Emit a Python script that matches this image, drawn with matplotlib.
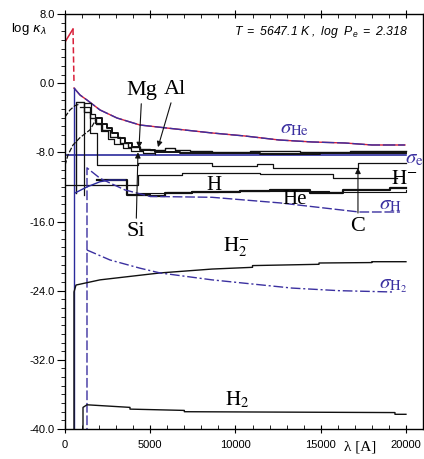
import matplotlib
matplotlib.use("Agg")
import matplotlib.pyplot as plt
from matplotlib.ticker import MultipleLocator, FormatStrFormatter

# ---------------- data (wavelength in A, log kappa) ----------------
sigHe_x = [528, 880, 1290, 2053, 3050, 4399, 5982, 8622, 10557, 12551, 14487, 16422, 18006, 19941]
sigHe_y = [-0.56, -1.37, -1.95, -3.10, -4.03, -4.84, -5.19, -5.76, -6.11, -6.57, -6.80, -6.92, -7.15, -7.15]

red_x = [0, 469, 528]
red_y = [4.76, 6.27, 0.0]

sige_x = [0, 20000]
sige_y = [-8.3, -8.3]

S1_x = [645, 645, 1114, 1466, 1818, 2170, 2639, 3226, 3695, 4399, 4985, 5865, 6451, 7331, 8622, 10850, 13783, 16716, 20000]
S1_y = [-12.7, -2.2, -3.3, -4.0, -4.7, -5.4, -6.2, -6.9, -7.4, -7.6, -7.7, -7.5, -7.7, -7.85, -7.95, -7.85, -7.95, -7.85, -7.85]

S2_x = [1877, 2170, 2463, 2757, 3108, 3519, 3930, 4399, 5279, 6745, 8622, 11437, 14956, 20000]
S2_y = [-4.0, -4.7, -5.2, -5.8, -6.3, -6.9, -7.4, -7.7, -8.0, -8.1, -8.1, -8.2, -8.1, -8.1]

S4_x = [1114, 1114, 1500, 1750, 2100, 2500, 2900, 3400, 3900, 4600, 5300]
S4_y = [-12.9, -2.3, -3.6, -4.6, -5.5, -6.4, -7.0, -7.5, -7.9, -8.1, -8.2]

L1_x = [880, 1466, 1877, 4281, 8622, 11261, 12200, 17185, 20000]
L1_y = [-2.8, -5.8, -9.5, -9.2, -9.6, -9.35, -9.8, -9.2, -9.2]

L2_x = [0, 4281, 6862, 11437, 15718, 19500]
L2_y = [-11.8, -10.6, -10.4, -10.5, -11.0, -11.0]

H_x = [1877, 3636, 4985, 5865, 7449, 10264, 12023, 14370, 16305, 19062, 20000]
H_y = [-11.2, -12.9, -13.05, -12.7, -12.6, -12.45, -12.35, -12.7, -12.35, -12.15, -12.15]

He_x = [4281, 6000, 9000, 12600, 15500, 20000]
He_y = [-12.75, -12.6, -12.5, -12.45, -12.55, -12.3]

Hbf_x = [587, 1290, 2053, 2639, 3519]
Hbf_y = [-12.7, -12.0, -11.4, -11.2, -11.2]

sigH_x = [1290, 1290, 2053, 2639, 3519, 4985, 8622, 12610, 17243, 19648]
sigH_y = [-41, -9.8, -11.0, -11.55, -12.35, -13.1, -13.2, -13.85, -14.9, -14.9]

H2m_x = [528, 528, 645, 2053, 5572, 8622, 11000, 11000, 14900, 14900, 18000, 18000, 20000]
H2m_y = [-41, -24.15, -23.35, -22.75, -21.95, -21.5, -21.3, -21.1, -20.95, -20.8, -20.75, -20.65, -20.65]

sigH2_x = [1290, 2639, 4399, 5572, 8622, 13314, 16070, 19180]
sigH2_y = [-19.3, -20.45, -21.4, -21.95, -22.75, -23.7, -24.0, -24.15]

H2_x = [1056, 1056, 1290, 3812, 3812, 7000, 7000, 19355, 19355, 20000]
H2_y = [-41, -37.5, -37.2, -37.5, -37.7, -37.85, -38.0, -38.1, -38.3, -38.3]

D1_x = [0, 293, 587, 880]
D1_y = [-3.9, -3.1, -2.6, -2.4]

D2_x = [0, 176, 469, 880, 1466, 1877]
D2_y = [-9.5, -8.3, -7.15, -6.3, -5.4, -4.0]

# ---------------- style ----------------
plt.rcParams['axes.unicode_minus'] = False
plt.rcParams['mathtext.fontset'] = 'custom'
plt.rcParams['mathtext.rm'] = 'Liberation Sans:italic'
plt.rcParams['mathtext.it'] = 'Liberation Sans:italic'

BLK = '#111111'
BLUE = '#2a2a9c'
SBLUE = '#3b30a0'
RED = '#d8203a'

fig = plt.figure(figsize=(4.24, 4.59), dpi=100)
ax = fig.add_axes([65/424, 30/459, 358/424, 415/459])
ax.set_xlim(0, 21000)
ax.set_ylim(-40, 8)

# red total near UV
ax.plot(red_x[:2], red_y[:2], color=RED, lw=1.1)
ax.plot(red_x[1:], red_y[1:], color=RED, lw=1.1, dashes=(4, 2))
ax.plot(sigHe_x, sigHe_y, color=RED, lw=1.0)
# sigma He
ax.plot([sigHe_x[0], sigHe_x[0]], [-41, sigHe_y[0]], color=BLUE, lw=1.0)
ax.plot(sigHe_x, sigHe_y, color=SBLUE, lw=1.0, dashes=(9, 2))
# sigma e
ax.plot(sige_x, sige_y, color=BLUE, lw=1.2)

# metal steps
ax.step(S1_x, S1_y, where='post', color=BLK, lw=1.0)
ax.step(S2_x, S2_y, where='post', color=BLK, lw=1.4)
ax.step(S4_x, S4_y, where='post', color=BLK, lw=0.9)
ax.step(L1_x, L1_y, where='post', color=BLK, lw=0.9)
ax.step(L2_x, L2_y, where='post', color=BLK, lw=0.9)
ax.step(H_x, H_y, where='post', color=BLK, lw=1.6)
ax.step(He_x, He_y, where='post', color=BLK, lw=0.8)
ax.plot(D1_x, D1_y, color=BLK, lw=0.9, dashes=(4, 1.5))
ax.plot(D2_x, D2_y, color=BLK, lw=0.9, dashes=(4, 1.5))

ax.plot(Hbf_x, Hbf_y, color=BLUE, lw=1.0)
ax.plot(sigH_x, sigH_y, color=SBLUE, lw=1.0, dashes=(7, 2))

ax.plot(H2m_x, H2m_y, color=BLK, lw=1.0)
ax.plot(sigH2_x, sigH2_y, color=SBLUE, lw=1.0, dashes=(7, 2, 1.5, 2))
ax.plot(H2_x, H2_y, color=BLK, lw=1.0)

# ---------------- labels ----------------
serif = 'Liberation Serif'
arrow = dict(arrowstyle='-|>', color=BLK, lw=0.8, mutation_scale=8, shrinkA=1, shrinkB=0)
ax.annotate('Mg', xy=(4340, -7.5), xytext=(4516, -0.8), ha='center', va='center',
            family=serif, fontsize=16, arrowprops=arrow)
ax.annotate('Al', xy=(5455, -7.4), xytext=(6452, -0.7), ha='center', va='center',
            family=serif, fontsize=16, arrowprops=arrow)
ax.annotate('Si', xy=(4281, -8.0), xytext=(4164, -17.2), ha='center', va='center',
            family=serif, fontsize=16, arrowprops=arrow)
ax.annotate('C', xy=(17185, -9.8), xytext=(17185, -16.6), ha='center', va='center',
            family=serif, fontsize=16, arrowprops=arrow)

ax.text(8750, -11.8, 'H', family=serif, fontsize=15, ha='center', va='center')
ax.text(13490, -13.5, 'He', family=serif, fontsize=15, ha='center', va='center')
ax.text(19900, -10.97, r'$\mathrm{H}^{-}$', math_fontfamily='stix', fontsize=15,
        ha='center', va='center')
ax.text(10029, -18.95, r'$\mathrm{H}_2^{-}$', math_fontfamily='stix', fontsize=15,
        ha='center', va='center')
ax.text(10088, -36.6, r'$\mathrm{H}_2$', math_fontfamily='stix', fontsize=15,
        ha='center', va='center')

ax.text(13490, -5.19, r'$\sigma_{\mathrm{He}}$', math_fontfamily='stix', fontsize=15,
        color=SBLUE, ha='center', va='center')
ax.text(20470, -8.66, r'$\sigma_{\mathrm{e}}$', math_fontfamily='stix', fontsize=15,
        color=SBLUE, ha='center', va='center', clip_on=False)
ax.text(19062, -13.97, r'$\sigma_{\mathrm{H}}$', math_fontfamily='stix', fontsize=15,
        color=SBLUE, ha='center', va='center')
ax.text(19237, -23.34, r'$\sigma_{\mathrm{H}_2}$', math_fontfamily='stix', fontsize=15,
        color=SBLUE, ha='center', va='center')

ax.text(0.716, 0.957, r'$T\ =\ 5647.1\ K\ ,\ log\ \ P_e\ =\ 2.318$', transform=ax.transAxes,
        fontsize=8.8, ha='center', va='center')

fig.text(29/424, 1 - 29/459, r'log $\kappa_\lambda$', family='Liberation Sans', fontsize=9.5,
         ha='center', va='center', math_fontfamily='dejavusans')
ax.text(17300, -42.1, 'λ [A]', family=serif, fontsize=11, ha='center', va='center',
        clip_on=False)

# ---------------- axes ----------------
ax.xaxis.set_major_locator(MultipleLocator(5000))
ax.xaxis.set_minor_locator(MultipleLocator(1000))
ax.yaxis.set_major_locator(MultipleLocator(8))
ax.yaxis.set_minor_locator(MultipleLocator(1))
ax.yaxis.set_major_formatter(FormatStrFormatter('%.1f'))
ax.tick_params(axis='y', which='major', direction='out', length=6, width=0.8,
               labelsize=8, pad=1.5, right=True)
ax.tick_params(axis='y', which='minor', direction='out', length=3, width=0.6, right=True)
ax.tick_params(axis='x', which='major', direction='inout', length=6, width=0.8,
               labelsize=8, pad=5, top=True)
ax.tick_params(axis='x', which='minor', direction='in', length=3, width=0.6, top=True)
for lab in ax.get_xticklabels() + ax.get_yticklabels():
    lab.set_family('Liberation Sans')
for s in ax.spines.values():
    s.set_linewidth(1.0)

fig.savefig('out.png', dpi=100)
